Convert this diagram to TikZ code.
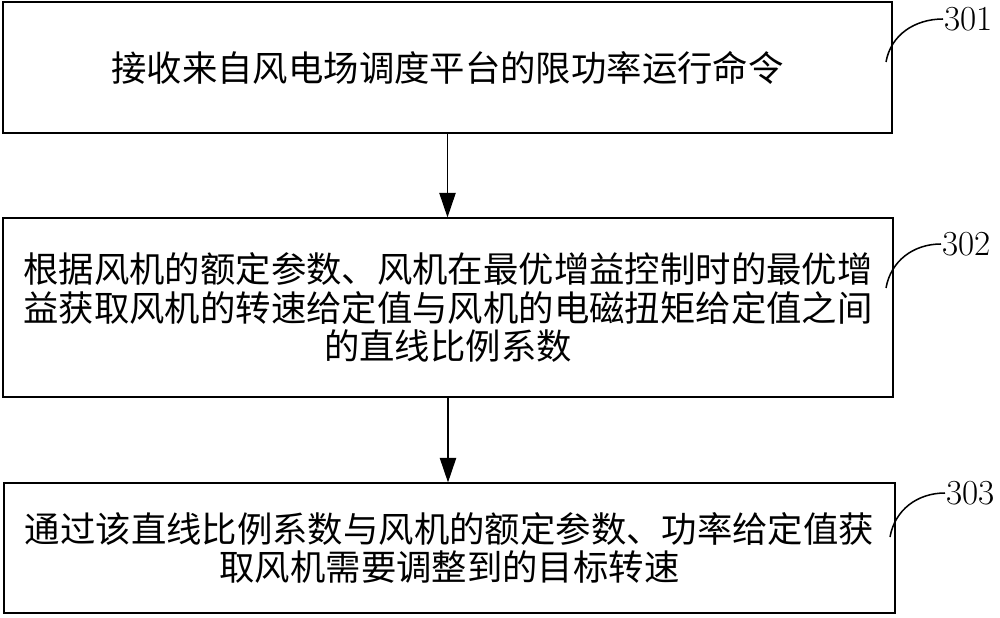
\documentclass[tikz,border=0pt]{standalone}
\usepackage{fontspec}
\newfontfamily\cjk{Noto Sans CJK SC}
\usetikzlibrary{arrows.meta, positioning}

\tikzset{
  stepbox/.style={draw, line width=1pt, align=center, inner sep=0pt,
    font=\cjk\fontsize{30.2}{32.5}\selectfont},
  flow/.style={-{Triangle[length=21pt, width=14pt]}, line width=1pt},
  steplabel/.style={font=\fontsize{30}{30}\selectfont, inner sep=1pt},
  leader/.style={line width=1.3pt}
}

\begin{document}
\begin{tikzpicture}[x=0.03cm, y=-0.03cm]
    \useasboundingbox (0,0) rectangle (1000,618);

    % Schritte
    \node[stepbox, minimum width=26.67cm, minimum height=3.93cm] (s301) at (447.5, 67.5)
      {接收来自风电场调度平台的限功率运行命令};
    \node[stepbox, minimum width=26.7cm, minimum height=5.37cm] (s302) at (448, 307.5)
      {根据风机的额定参数、风机在最优增益控制时的最优增\\
       益获取风机的转速给定值与风机的电磁扭矩给定值之间\\
       的直线比例系数};
    \node[stepbox, minimum width=26.73cm, minimum height=3.9cm] (s303) at (449.5, 548)
      {通过该直线比例系数与风机的额定参数、功率给定值获\\
       取风机需要调整到的目标转速};

    % Pfeile
    \draw[flow] (s301.south) -- (s301.south |- s302.north);
    \draw[flow] (s302.south) -- (s302.south |- s303.north);

    % Bezugszeichen
    \node[steplabel, anchor=west] (l301) at (943, 19) {301};
    \node[steplabel, anchor=west] (l302) at (941, 244) {302};
    \node[steplabel, anchor=west] (l303) at (945, 493) {303};
    \coordinate (e301) at (886, 62);
    \coordinate (e302) at (886, 288);
    \coordinate (e303) at (890, 537);
    \draw[leader] (l301.west) to[out=180, in=80] (e301);
    \draw[leader] (l302.west) to[out=180, in=80] (e302);
    \draw[leader] (l303.west) to[out=180, in=80] (e303);
  \end{tikzpicture}
\end{document}
